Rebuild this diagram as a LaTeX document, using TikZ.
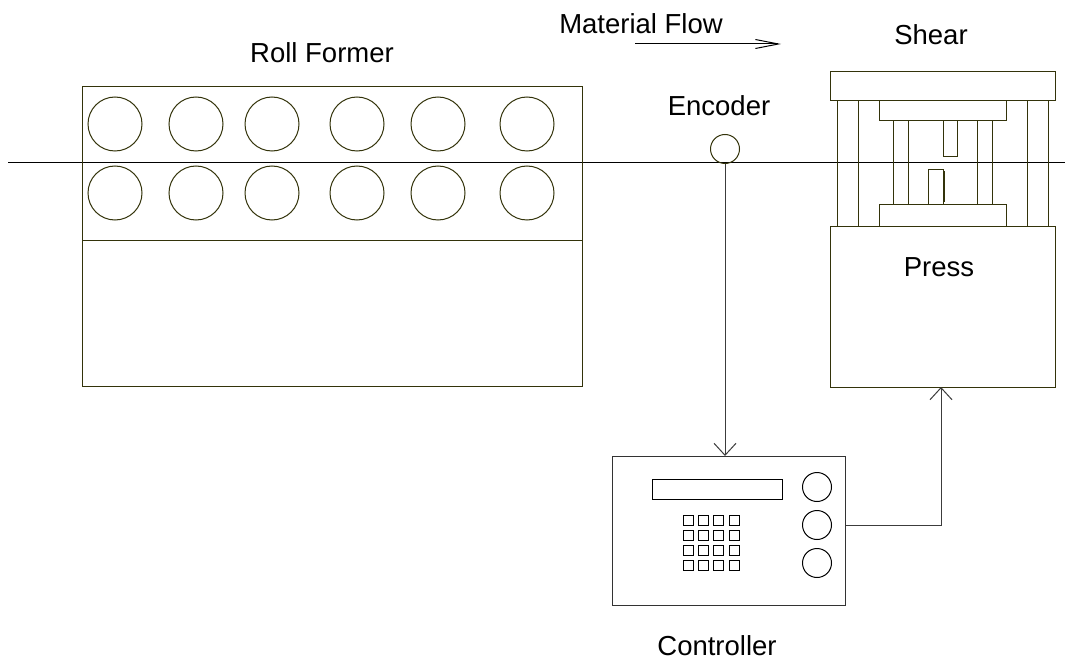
\documentclass[tikz,border=0pt]{standalone}
\usepackage{fontspec}
\setmainfont{Liberation Sans}
\usetikzlibrary{arrows.meta}
\definecolor{ln}{RGB}{51,51,10}
\definecolor{cn}{RGB}{60,60,60}
\tikzset{
  box/.style={draw=ln, line width=1pt, rectangle, inner sep=0pt, anchor=north west},
  part/.style={draw=ln, line width=1pt},
  knob/.style={draw=black, line width=1pt, circle, inner sep=0pt, minimum size=29pt},
  lbl/.style={font=\fontsize{27.5}{33}\selectfont, anchor=base, inner sep=0pt, text=black},
  conn/.style={draw=cn, line width=1pt, -{Straight Barb[length=12pt,width=22pt,line width=1pt]}},
  flow/.style={draw=black, line width=1pt, -{Straight Barb[length=23pt,width=9pt,line width=1pt]}},
}
\begin{document}
\begin{tikzpicture}[x=1pt,y=-1pt]
\useasboundingbox (0,0) rectangle (1065,663);
\fill[white] (0,0) rectangle (1065,663);

% material line
\coordinate (ml0) at (8,163);
\coordinate (ml1) at (1065,163);
\draw[black, line width=1pt] (ml0) -- (ml1);

% Roll former
\node[box, minimum width=500pt, minimum height=154pt] (rftop) at (82,86) {};
\node[box, minimum width=500pt, minimum height=146pt] (rfbot) at (82,240) {};
\foreach \x in {115,196,272,357,438,527}{
  \draw[part] (\x,124) circle (27);
  \draw[part] (\x,193) circle (27);
}
\node[lbl] (rflbl) at (322,63) {Roll Former};

% Material flow
\node[lbl] (mflbl) at (641,34) {Material Flow};
\coordinate (mfa) at (635,44);
\coordinate (mfb) at (781,44);
\draw[flow] (mfa) -- (mfb);

% Encoder
\node[knob, draw=ln] (enc) at (725,149) {};
\node[lbl] (enclbl) at (719,116) {Encoder};

% Shear
\node[lbl] (shlbl) at (931,45) {Shear};
\draw[part] (830,72) rectangle (1055,101);
\draw[part] (837,101) rectangle (858,226);
\draw[part] (1027,101) rectangle (1048,226);
\draw[part] (879,101) rectangle (1006,121);
\draw[part] (893,121) rectangle (908,205);
\draw[part] (977,121) rectangle (992,205);
\draw[part] (943,121) rectangle (957,157);
\draw[part] (928,170) rectangle (943,205);
\draw[part] (944,171) -- (944,202);
\draw[part] (879,205) rectangle (1006,226);

% Press
\node[box, minimum width=225pt, minimum height=161pt] (press) at (830,226) {};
\node[lbl] (prlbl) at (939,276) {Press};

% Controller
\node[box, draw=black!80, minimum width=233pt, minimum height=149pt] (ctrl) at (612,456) {};
\draw[black, line width=1pt] (652,479) rectangle (782,499);
\foreach \i/\x in {0/683,1/698.3,2/713.6,3/729}{
  \foreach \y in {515,530,545,560}{
    \draw[black, line width=0.9pt] (\x,\y) rectangle ++(10,10);
  }
}
\node[knob] (k1) at (817,487) {};
\node[knob] (k2) at (817,525) {};
\node[knob] (k3) at (817,563) {};
\node[lbl] (ctlbl) at (717,655) {Controller};

% connectors
\draw[conn] (enc.south) -- (enc.south |- ctrl.north);
\coordinate (pin) at (941,387);
\draw[conn] (ctrl.east |- k2) -| (pin);
\end{tikzpicture}
\end{document}
